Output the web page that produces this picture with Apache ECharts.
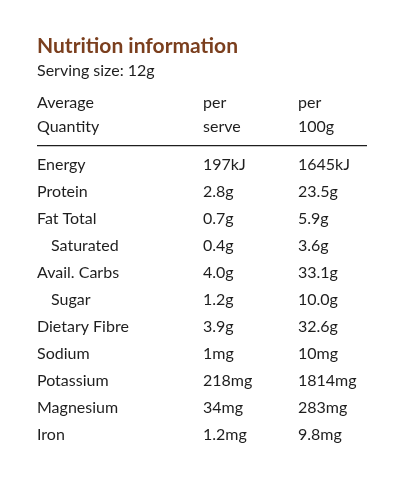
<!DOCTYPE html>
<html><head><meta charset="utf-8">
<script src="https://cdn.jsdelivr.net/npm/echarts@6/dist/echarts.min.js"></script>
<style>html,body{margin:0;background:#fff}#main{width:406px;height:480px}</style>
</head><body><div id="main"></div>
<script>
var title = 'Nutrition information';
var serving = 'Serving size: 12g';
var headers = [['Average', 'Quantity'], ['per', 'serve'], ['per', '100g']];
var nutrients = ['Energy', 'Protein', 'Fat Total', 'Saturated', 'Avail. Carbs', 'Sugar', 'Dietary Fibre', 'Sodium', 'Potassium', 'Magnesium', 'Iron'];
var indented = [false, false, false, true, false, true, false, false, false, false, false];
var perServe = ['197kJ', '2.8g', '0.7g', '0.4g', '4.0g', '1.2g', '3.9g', '1mg', '218mg', '34mg', '1.2mg'];
var per100g = ['1645kJ', '23.5g', '5.9g', '3.6g', '33.1g', '10.0g', '32.6g', '10mg', '1814mg', '283mg', '9.8mg'];

var font = 'Lato, "Open Sans", sans-serif';
var ink = '#1e1e1e';
var cols = [37, 203, 298];
var g = [];
function txt(x, y, s, size, color, weight) {
    g.push({type: 'text', left: x, top: y, style: {text: s, fill: color || ink, font: (weight || 'normal') + ' ' + (size || 16) + 'px ' + font}});
}
txt(37, 36, title, 21, '#7b3f1e', 'bold');
txt(37, 63, serving, 16);
headers.forEach(function (h, i) {
    txt(cols[i], 95, h[0]);
    txt(cols[i], 119, h[1]);
});
g.push({type: 'rect', left: 37, top: 145, shape: {width: 330, height: 1.3}, style: {fill: ink}});
nutrients.forEach(function (n, i) {
    var y = 157 + i * 27;
    txt(indented[i] ? 51 : 37, y, n);
    txt(cols[1], y, perServe[i]);
    txt(cols[2], y, per100g[i]);
});
var chart = echarts.init(document.getElementById('main'));
chart.setOption({backgroundColor: '#fff', graphic: g});
</script></body></html>
